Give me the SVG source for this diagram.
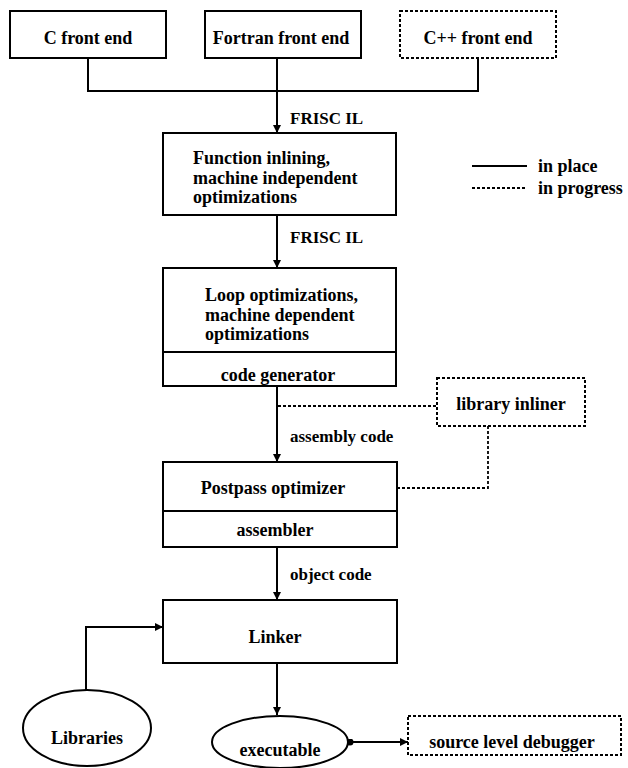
<svg xmlns="http://www.w3.org/2000/svg" width="628" height="768" viewBox="0 0 628 768">
<style>
  text { font-family: "Liberation Serif", "Times New Roman", serif; font-weight: bold; font-size: 18px; fill: #000; }
  .lbl { font-size: 17px; }
  .mid { text-anchor: middle; }
  .box { fill: #fff; stroke: #000; stroke-width: 2; }
  .dbox { fill: #fff; stroke: #000; stroke-width: 2; stroke-dasharray: 3 2; }
  .ln { fill: none; stroke: #000; stroke-width: 2; }
  .dl { fill: none; stroke: #000; stroke-width: 1.8; stroke-dasharray: 3 2; }
</style>
<defs>
  <marker id="arr" viewBox="0 0 10 10" refX="10" refY="5" markerWidth="4" markerHeight="4.5" orient="auto" markerUnits="strokeWidth">
    <path d="M0,0 L10,5 L0,10 z" fill="#000"/>
  </marker>
  <marker id="dot" viewBox="0 0 10 10" refX="5" refY="5" markerWidth="3.5" markerHeight="3.5" orient="auto" markerUnits="strokeWidth">
    <circle cx="5" cy="5" r="5" fill="#000"/>
  </marker>
</defs>
<rect width="628" height="768" fill="#fff"/>

<g id="connectors">
  <path class="ln" d="M88,58 V91 H478 V58"/>
  <path class="ln" d="M277,58 V133" marker-end="url(#arr)"/>
  <path class="ln" d="M277,215 V268" marker-end="url(#arr)"/>
  <path class="ln" d="M277,386 V462" marker-end="url(#arr)"/>
  <path class="ln" d="M277,547 V600" marker-end="url(#arr)"/>
  <path class="ln" d="M277,663 V715" marker-end="url(#arr)"/>
  <path class="ln" d="M86,690 V627 H163" marker-end="url(#arr)"/>
  <path class="ln" d="M350,742 H408" marker-start="url(#dot)" marker-end="url(#arr)"/>
  <path class="dl" d="M278,406 H437"/>
  <path class="dl" d="M488,426 V488 H397"/>
  <text class="lbl" x="290" y="124">FRISC IL</text>
  <text class="lbl" x="290" y="243">FRISC IL</text>
  <text class="lbl" x="290" y="442">assembly code</text>
  <text class="lbl" x="290" y="580">object code</text>
</g>

<g id="c-front-end">
  <rect class="box" x="10" y="11" width="156" height="47"/>
  <text class="mid" x="88" y="44">C front end</text>
</g>
<g id="fortran-front-end">
  <rect class="box" x="205" y="11" width="156" height="47"/>
  <text class="mid" x="281" y="44">Fortran front end</text>
</g>
<g id="cpp-front-end">
  <rect class="dbox" x="400" y="11" width="156" height="47"/>
  <text class="mid" x="478" y="44">C++ front end</text>
</g>

<g id="function-inlining">
  <rect class="box" x="163" y="133" width="233" height="82"/>
  <text x="193" y="164">Function inlining,</text>
  <text x="193" y="184">machine independent</text>
  <text x="193" y="203">optimizations</text>
</g>

<g id="legend">
  <line class="ln" x1="472" y1="166" x2="527" y2="166"/>
  <text x="538" y="172">in place</text>
  <line class="dl" x1="472" y1="188" x2="527" y2="188"/>
  <text x="538" y="194">in progress</text>
</g>

<g id="loop-optimizations">
  <rect class="box" x="163" y="268" width="233" height="118"/>
  <line class="ln" x1="163" y1="352" x2="396" y2="352"/>
  <text x="205" y="301">Loop optimizations,</text>
  <text x="205" y="321">machine dependent</text>
  <text x="205" y="340">optimizations</text>
  <text class="mid" x="278" y="381">code generator</text>
</g>

<g id="library-inliner">
  <rect class="dbox" x="437" y="378" width="148" height="48"/>
  <text class="mid" x="511" y="410">library inliner</text>
</g>

<g id="postpass-optimizer">
  <rect class="box" x="163" y="462" width="234" height="85"/>
  <line class="ln" x1="163" y1="511" x2="397" y2="511"/>
  <text class="mid" x="273" y="494">Postpass optimizer</text>
  <text class="mid" x="275" y="536">assembler</text>
</g>

<g id="linker">
  <rect class="box" x="163" y="600" width="234" height="63"/>
  <text class="mid" x="275" y="643">Linker</text>
</g>

<g id="libraries">
  <ellipse class="box" cx="87" cy="728" rx="64" ry="38"/>
  <text class="mid" x="87" y="744">Libraries</text>
</g>

<g id="executable">
  <ellipse class="box" cx="280" cy="742" rx="68" ry="26"/>
  <text class="mid" x="280" y="756">executable</text>
</g>

<g id="source-level-debugger">
  <rect class="dbox" x="408" y="716" width="213" height="39"/>
  <text class="mid" x="512" y="748">source level debugger</text>
</g>
</svg>
